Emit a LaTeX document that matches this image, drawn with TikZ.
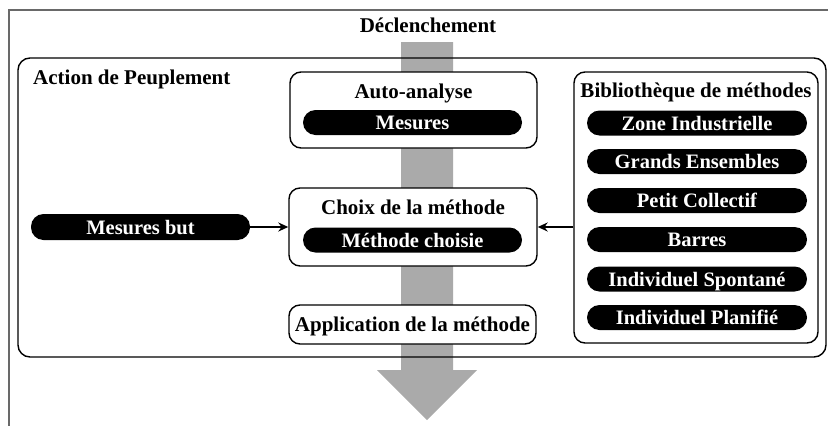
\documentclass[tikz,border=0pt]{standalone}
\usepackage{fontspec}
\setmainfont{Liberation Serif}
\usetikzlibrary{arrows.meta}
\definecolor{flowgray}{RGB}{170,170,170}
\definecolor{framegray}{RGB}{105,105,105}
\begin{document}
\begin{tikzpicture}[x=1pt,y=-1pt,
  every node/.style={font=\fontsize{21}{25}\selectfont\bfseries},
  pill/.style={fill=black,text=white,rounded corners=12.5,minimum height=25,inner sep=0,text height=14,text depth=0,font=\fontsize{20.5}{25}\selectfont\bfseries},
  panel/.style={draw=black,fill=white,line width=1.4,rounded corners=11,inner sep=0},
  title/.style={anchor=base,inner sep=0},
  link/.style={-{Stealth[length=10,width=9]},line width=1.8}]
\useasboundingbox (0,0) rectangle (828,426);
% outer frame (cut at right and bottom)
\draw[framegray,line width=1.8] (9,426) -- (9,10) -- (828,10);
% header
\node[title] (decl) at (428,32) {Déclenchement};
% big flow arrow
\fill[flowgray] (401,42) -- (453,42) -- (453,370) -- (477,370) -- (427,420) -- (377,370) -- (401,370) -- cycle;
% action frame
\draw[line width=1.4,rounded corners=12] (18,58) rectangle (826,357);
\node[title,anchor=base west] (action) at (33,84) {Action de Peuplement};
% auto-analyse
\node[panel,minimum width=247,minimum height=76] (auto) at (413.5,110) {};
\node[title] (autot) at (413.5,98) {Auto-analyse};
\node[pill,minimum width=219] (mes) at (412.5,122.5) {Mesures};
% choix
\node[panel,minimum width=248,minimum height=78] (choix) at (413,227) {};
\node[title] (choixt) at (413,214) {Choix de la méthode};
\node[pill,minimum width=219] (meth) at (412.5,240) {Méthode choisie};
% application
\node[panel,minimum width=247,minimum height=39] (appl) at (412.5,324.5) {};
\node[title] (applt) at (412.5,331) {Application de la méthode};
% mesures but
\node[pill,minimum width=219,minimum height=26] (but) at (140.5,227) {Mesures but};
% library
\node[panel,minimum width=244,minimum height=271] (lib) at (696,207.5) {};
\node[title] (libt) at (696,97) {Bibliothèque de méthodes};
\node[pill,minimum width=220] (l1) at (697,123) {Zone Industrielle};
\node[pill,minimum width=220] (l2) at (697,161.5) {Grands Ensembles};
\node[pill,minimum width=220] (l3) at (697,200.5) {Petit Collectif};
\node[pill,minimum width=220] (l4) at (697,239.5) {Barres};
\node[pill,minimum width=220] (l5) at (697,279) {Individuel Spontané};
\node[pill,minimum width=220] (l6) at (697,317.5) {Individuel Planifié};
% connectors
\draw[link] (but.east) -- (choix.west);
\draw[link] (lib.west |- choix.east) -- (choix.east);
\end{tikzpicture}
\end{document}
